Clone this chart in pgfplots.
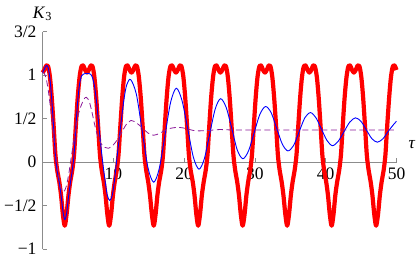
\documentclass[border=0pt]{standalone}
\usepackage{fontspec}
\setmainfont{Liberation Serif}
\usepackage{pgfplots}
\pgfplotsset{compat=1.18}
\definecolor{axgray}{rgb}{0.55,0.55,0.55}
\definecolor{mpurple}{rgb}{0.55,0.1,0.6}
\begin{document}
\fontsize{17.5bp}{21bp}\selectfont
\begin{tikzpicture}
\begin{axis}[
  at={(42.5bp,98.8bp)}, anchor=origin,
  scale only axis, width=354bp, height=217.5bp,
  xmin=0, xmax=50, ymin=-1, ymax=1.5,
  axis lines=middle,
  axis line style={axgray, line width=0.8bp, -},
  every tick/.style={axgray, line width=0.6bp},
  major tick length=4bp,
  tick align=inside,
  xtick={10,20,30,40,50}, xticklabels={10,20,30,40,50},
  ytick={-1,-0.5,0,0.5,1,1.5},
  yticklabels={−1,−1/2,0,1/2,1,3/2},
  every tick label/.append style={font=\fontsize{17.5bp}{21bp}\selectfont},
  x tick label style={yshift=0bp},
  hide obscured y ticks=false,
  clip=false,
]
\addplot[red, line width=4.2bp, line join=round, smooth] coordinates {
(0,1.03)(0.26,1.06)(0.52,1.11)(0.79,1.10)(1.05,0.98)(1.31,0.74)(1.57,0.42)(1.83,0.08)(2.09,-0.10)(2.36,-0.22)(2.62,-0.38)(2.88,-0.60)
(3.14,-0.73)(3.40,-0.60)(3.67,-0.38)(3.93,-0.22)(4.19,-0.10)(4.45,0.08)(4.71,0.42)(4.97,0.74)(5.24,0.98)(5.50,1.10)(5.76,1.11)(6.02,1.06)
(6.28,1.03)(6.54,1.06)(6.81,1.11)(7.07,1.10)(7.33,0.98)(7.59,0.74)(7.85,0.42)(8.12,0.08)(8.38,-0.10)(8.64,-0.22)(8.90,-0.38)(9.16,-0.60)
(9.42,-0.73)(9.69,-0.60)(9.95,-0.38)(10.21,-0.22)(10.47,-0.10)(10.73,0.08)(11.00,0.42)(11.26,0.74)(11.52,0.98)(11.78,1.10)(12.04,1.11)(12.30,1.06)
(12.57,1.03)(12.83,1.06)(13.09,1.11)(13.35,1.10)(13.61,0.98)(13.88,0.74)(14.14,0.42)(14.40,0.08)(14.66,-0.10)(14.92,-0.22)(15.18,-0.38)(15.45,-0.60)
(15.71,-0.73)(15.97,-0.60)(16.23,-0.38)(16.49,-0.22)(16.76,-0.10)(17.02,0.08)(17.28,0.42)(17.54,0.74)(17.80,0.98)(18.06,1.10)(18.33,1.11)(18.59,1.06)
(18.85,1.03)(19.11,1.06)(19.37,1.11)(19.63,1.10)(19.90,0.98)(20.16,0.74)(20.42,0.42)(20.68,0.08)(20.94,-0.10)(21.21,-0.22)(21.47,-0.38)(21.73,-0.60)
(21.99,-0.73)(22.25,-0.60)(22.51,-0.38)(22.78,-0.22)(23.04,-0.10)(23.30,0.08)(23.56,0.42)(23.82,0.74)(24.09,0.98)(24.35,1.10)(24.61,1.11)(24.87,1.06)
(25.13,1.03)(25.39,1.06)(25.66,1.11)(25.92,1.10)(26.18,0.98)(26.44,0.74)(26.70,0.42)(26.97,0.08)(27.23,-0.10)(27.49,-0.22)(27.75,-0.38)(28.01,-0.60)
(28.27,-0.73)(28.54,-0.60)(28.80,-0.38)(29.06,-0.22)(29.32,-0.10)(29.58,0.08)(29.85,0.42)(30.11,0.74)(30.37,0.98)(30.63,1.10)(30.89,1.11)(31.15,1.06)
(31.42,1.03)(31.68,1.06)(31.94,1.11)(32.20,1.10)(32.46,0.98)(32.72,0.74)(32.99,0.42)(33.25,0.08)(33.51,-0.10)(33.77,-0.22)(34.03,-0.38)(34.30,-0.60)
(34.56,-0.73)(34.82,-0.60)(35.08,-0.38)(35.34,-0.22)(35.60,-0.10)(35.87,0.08)(36.13,0.42)(36.39,0.74)(36.65,0.98)(36.91,1.10)(37.18,1.11)(37.44,1.06)
(37.70,1.03)(37.96,1.06)(38.22,1.11)(38.48,1.10)(38.75,0.98)(39.01,0.74)(39.27,0.42)(39.53,0.08)(39.79,-0.10)(40.06,-0.22)(40.32,-0.38)(40.58,-0.60)
(40.84,-0.73)(41.10,-0.60)(41.36,-0.38)(41.63,-0.22)(41.89,-0.10)(42.15,0.08)(42.41,0.42)(42.67,0.74)(42.94,0.98)(43.20,1.10)(43.46,1.11)(43.72,1.06)
(43.98,1.03)(44.24,1.06)(44.51,1.11)(44.77,1.10)(45.03,0.98)(45.29,0.74)(45.55,0.42)(45.81,0.08)(46.08,-0.10)(46.34,-0.22)(46.60,-0.38)(46.86,-0.60)
(47.12,-0.73)(47.39,-0.60)(47.65,-0.38)(47.91,-0.22)(48.17,-0.10)(48.43,0.08)(48.69,0.42)(48.96,0.74)(49.22,0.98)(49.48,1.10)(49.74,1.11)(50.00,1.06)
};
\addplot[blue, line width=0.9bp, smooth] coordinates {
(0,1.03)(0.26,1.07)(0.52,1.11)(0.79,1.09)(1.05,0.96)(1.31,0.72)(1.57,0.40)(1.83,0.07)(2.09,-0.11)(2.36,-0.23)(2.62,-0.38)(2.88,-0.56)
(3.14,-0.66)(3.40,-0.59)(3.67,-0.40)(3.93,-0.24)(4.19,-0.10)(4.45,0.08)(4.71,0.40)(4.97,0.70)(5.24,0.90)(5.50,0.99)(5.76,1.01)(6.02,1.02)
(6.28,1.02)(6.54,1.02)(6.81,1.01)(7.07,0.97)(7.33,0.88)(7.60,0.72)(7.90,0.47)(8.20,0.22)(8.50,0.00)(8.85,-0.22)(9.15,-0.38)(9.50,-0.44)
(9.85,-0.38)(10.15,-0.22)(10.45,0.00)(10.80,0.25)(11.10,0.46)(11.50,0.72)(11.90,0.89)(12.45,0.95)
(13.26,0.78)(14.08,0.36)(14.89,-0.06)(15.70,-0.23)
(16.50,-0.07)(17.30,0.31)(18.10,0.69)(18.90,0.85)
(19.70,0.71)(20.50,0.39)(21.30,0.06)(22.10,-0.08)
(22.86,0.04)(23.63,0.33)(24.39,0.61)(25.15,0.73)
(25.94,0.63)(26.73,0.39)(27.51,0.14)(28.30,0.04)
(29.10,0.13)(29.90,0.34)(30.70,0.55)(31.50,0.64)
(32.29,0.57)(33.08,0.39)(33.86,0.21)(34.65,0.13)
(35.45,0.19)(36.25,0.35)(37.05,0.51)(37.85,0.57)
(38.63,0.51)(39.40,0.38)(40.18,0.25)(40.95,0.19)
(41.76,0.24)(42.58,0.35)(43.39,0.46)(44.20,0.51)
(44.98,0.47)(45.75,0.37)(46.53,0.27)(47.30,0.23)
(48.09,0.27)(48.88,0.36)(49.66,0.44)(50.00,0.47)
};
\addplot[mpurple, line width=0.8bp, dash pattern=on 6bp off 3.5bp, smooth] coordinates {
(0,1.03)(0.26,1.02)(0.52,0.96)(0.79,0.84)(1.05,0.68)(1.31,0.50)(1.57,0.30)(1.83,0.10)(2.09,-0.06)(2.36,-0.20)(2.62,-0.30)(3.00,-0.34)
(3.35,-0.28)(3.70,-0.14)(4.05,0.05)(4.40,0.24)(4.75,0.42)(5.10,0.56)(5.50,0.66)(5.90,0.73)(6.20,0.745)(6.60,0.70)(7.00,0.57)(7.40,0.42)
(7.80,0.30)(8.30,0.21)(8.80,0.17)(9.30,0.16)(9.90,0.19)(10.50,0.25)(11.10,0.33)(11.80,0.43)(12.50,0.48)(13.30,0.45)(14.10,0.395)(14.90,0.335)
(15.70,0.31)(16.50,0.33)(17.30,0.365)(18.10,0.39)(19.00,0.40)(19.80,0.395)(20.60,0.38)(21.30,0.365)(22.10,0.36)(23.50,0.365)(25.00,0.375)(27.00,0.37)
(30.00,0.37)(35.00,0.37)(40.00,0.37)(45.00,0.37)(50.00,0.37)
};
\node[anchor=base] at (axis cs:0,1.655) {\textit{K}\textsubscript{3}};
\node[anchor=center] at (axis cs:52.2,0.2) {\textit{τ}};
\end{axis}
\pgfresetboundingbox
\path[use as bounding box] (0,0) rectangle (417bp,261bp);
\end{tikzpicture}
\end{document}
